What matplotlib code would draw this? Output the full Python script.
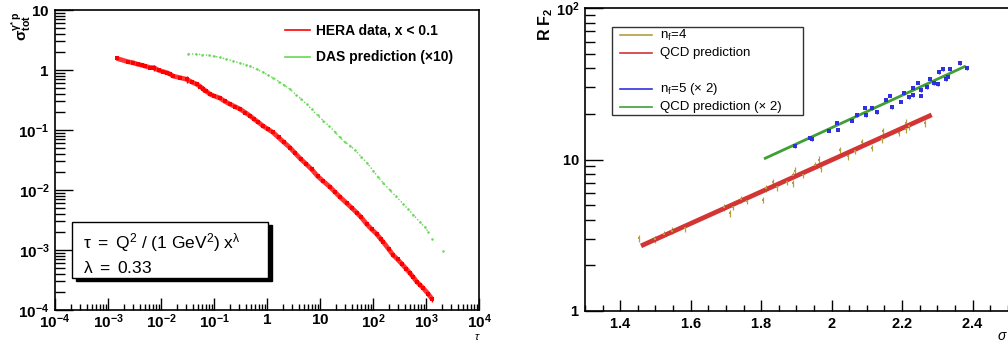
import numpy as np
import matplotlib
matplotlib.use('Agg')
import matplotlib.pyplot as plt
from matplotlib.patches import Rectangle
from matplotlib.ticker import FixedLocator, FixedFormatter, LogLocator, MultipleLocator, NullFormatter

plt.rcParams['font.family'] = ['Liberation Sans', 'DejaVu Sans']
plt.rcParams['mathtext.fontset'] = 'custom'
plt.rcParams['mathtext.rm'] = 'Liberation Sans'
plt.rcParams['mathtext.it'] = 'Liberation Sans:italic'
plt.rcParams['mathtext.bf'] = 'Liberation Sans:bold'

# ---- left panel: geometric scaling, sigma_tot vs tau ----
hera_tau = [1.46e-3, 2.4e-3, 2.9e-3, 3.7e-3, 4.4e-3, 5.0e-3, 6.2e-3, 7.4e-3, 9.0e-3,
            0.011, 0.013, 0.015, 0.017, 0.0228, 0.0305, 0.038, 0.047, 0.055, 0.063,
            0.072, 0.084, 0.10, 0.13, 0.16, 0.20, 0.25, 0.31, 0.39, 0.48, 0.58, 0.69,
            0.85, 1.05, 1.3, 1.65, 2.1, 2.7, 3.4, 4.3, 5.5, 7.0, 9.0, 11.5, 15.5, 19,
            24, 32, 40, 49, 60, 76, 95, 117, 140, 157, 200, 241, 290, 347, 420, 500,
            580, 667, 780, 890, 1107, 1320]
hera_sig = [1.56, 1.37, 1.33, 1.24, 1.20, 1.16, 1.10, 1.09, 0.99,
            0.94, 0.90, 0.85, 0.79, 0.745, 0.70, 0.63, 0.58, 0.53, 0.48,
            0.44, 0.395, 0.37, 0.34, 0.30, 0.27, 0.245, 0.223, 0.195, 0.172, 0.150, 0.134,
            0.116, 0.103, 0.091, 0.075, 0.062, 0.051, 0.041, 0.033, 0.027, 0.022, 0.0170, 0.0140, 0.0112, 0.0093,
            0.0076, 0.0060, 0.0050, 0.0042, 0.0035, 0.0027, 0.0022, 0.00185, 0.00152, 0.00135, 0.00102, 0.00082,
            0.00070, 0.00059, 0.00049, 0.00041, 0.00035, 0.000296, 0.00026, 0.00023, 0.000185, 0.00015]
hera_err = [0.04, 0.03, 0.03, 0.03, 0.03, 0.03, 0.03, 0.12, 0.03,
            0.03, 0.03, 0.03, 0.03, 0.03, 0.12, 0.03, 0.03, 0.03, 0.12,
            0.03, 0.03, 0.03, 0.03, 0.03, 0.03, 0.03, 0.05, 0.03, 0.03, 0.03, 0.03,
            0.03, 0.03, 0.03, 0.03, 0.03, 0.03, 0.03, 0.03, 0.03, 0.03, 0.03, 0.03, 0.03, 0.03,
            0.03, 0.03, 0.03, 0.03, 0.03, 0.03, 0.03, 0.08, 0.03, 0.03, 0.03, 0.05,
            0.03, 0.03, 0.03, 0.10, 0.03, 0.03, 0.03, 0.03, 0.08, 0.08]

das_tau = [0.033, 0.045, 0.06, 0.08, 0.10, 0.13, 0.17, 0.23, 0.31, 0.40, 0.48, 0.64,
           0.85, 1.05, 1.3, 1.7, 2.1, 2.7, 3.5, 4.4, 5.6, 7.0, 9.0, 11.6, 15, 19,
           23.8, 30, 37, 46, 60, 78, 101, 125, 157, 209, 270, 370, 460, 570, 770,
           950, 1107, 1280, 2120]
das_sig = [1.86, 1.84, 1.80, 1.75, 1.70, 1.62, 1.52, 1.41, 1.31, 1.22, 1.16, 1.03,
           0.91, 0.82, 0.745, 0.64, 0.56, 0.48, 0.39, 0.33, 0.27, 0.22, 0.175, 0.143, 0.115, 0.094,
           0.075, 0.062, 0.055, 0.046, 0.036, 0.028, 0.021, 0.0165, 0.0130, 0.0099, 0.0078, 0.0059, 0.0048, 0.0039, 0.0029,
           0.0024, 0.0020, 0.00155, 0.00096]

left_xticks = [1e-4, 1e-3, 1e-2, 1e-1, 1, 10, 1e2, 1e3, 1e4]
left_xlabels = [r'$\mathbf{10^{-4}}$', r'$\mathbf{10^{-3}}$', r'$\mathbf{10^{-2}}$', r'$\mathbf{10^{-1}}$',
                r'$\mathbf{1}$', r'$\mathbf{10}$', r'$\mathbf{10^{2}}$', r'$\mathbf{10^{3}}$', r'$\mathbf{10^{4}}$']
left_yticks = [1e-4, 1e-3, 1e-2, 1e-1, 1, 10]
left_ylabels = [r'$\mathbf{10^{-4}}$', r'$\mathbf{10^{-3}}$', r'$\mathbf{10^{-2}}$', r'$\mathbf{10^{-1}}$',
                r'$\mathbf{1}$', r'$\mathbf{10}$']

# ---- right panel: R F2 vs sigma ----
nf4_x = [1.454, 1.499, 1.524, 1.548, 1.584, 1.694, 1.711, 1.719, 1.744, 1.760, 1.806,
         1.815, 1.834, 1.846, 1.874, 1.889, 1.891, 1.896, 1.919, 1.953, 1.964, 1.969,
         2.025, 2.047, 2.066, 2.087, 2.116, 2.142, 2.146, 2.192, 2.211, 2.211, 2.220, 2.265]
nf4_y = [3.02, 2.97, 3.22, 3.39, 3.52, 4.83, 4.42, 4.88, 5.46, 5.35, 5.40,
         6.46, 7.13, 6.55, 7.13, 7.90, 6.96, 8.44, 7.90, 9.2, 10.0, 8.75,
         11.6, 10.5, 11.4, 13.1, 11.9, 13.6, 15.4, 15.0, 17.5, 15.8, 16.6, 17.3]
nf5_x = [1.896, 1.938, 1.943, 1.993, 2.016, 2.019, 2.057, 2.071, 2.096, 2.099, 2.116,
         2.130, 2.153, 2.165, 2.170, 2.198, 2.205, 2.220, 2.231, 2.230, 2.244, 2.255,
         2.255, 2.272, 2.279, 2.291, 2.302, 2.305, 2.316, 2.324, 2.331, 2.337, 2.364, 2.383]
nf5_y = [12.3, 13.8, 13.6, 15.5, 17.5, 15.7, 18.0, 19.7, 22.0, 19.6, 21.8,
         20.5, 24.7, 26.4, 22.1, 24.1, 27.4, 25.7, 26.7, 29.5, 32.1, 28.8,
         26.4, 30.0, 33.8, 31.8, 31.5, 37.6, 39.4, 33.8, 35.2, 39.4, 43.2, 40.0]
qcd4_x = [1.459, 2.284]
qcd4_y = [2.69, 19.7]
qcd5_x = [1.808, 2.381]
qcd5_y = [10.1, 41.4]

right_xticks = [1.4, 1.6, 1.8, 2.0, 2.2, 2.4]
right_xlabels = [r'$\mathbf{1.4}$', r'$\mathbf{1.6}$', r'$\mathbf{1.8}$', r'$\mathbf{2}$',
                 r'$\mathbf{2.2}$', r'$\mathbf{2.4}$']
right_yticks = [1, 10, 100]
right_ylabels = [r'$\mathbf{1}$', r'$\mathbf{10}$', r'$\mathbf{10^{2}}$']

RED = '#ff0000'
LGREEN = '#66d855'
OLIVE = '#b0a040'
BLUE = '#3030e0'
QRED = '#d33535'
QGREEN = '#3f9f35'

fig = plt.figure(figsize=(10.08, 3.41), dpi=100)
W, H = 1008.0, 341.0

# left axes: spine px 55..479, 10..310
ax1 = fig.add_axes([55 / W, 1 - 310 / H, 424 / W, 300 / H])
ax1.set_xscale('log')
ax1.set_yscale('log')
ax1.set_xlim(1e-4, 1e4)
ax1.set_ylim(1e-4, 10)

ax1.plot(das_tau[:-2], das_sig[:-2], ls=(0, (1, 1.5)), lw=1.0, color=LGREEN)
ax1.plot(das_tau, das_sig, ls='none', marker='.', ms=1.6, color=LGREEN)

hera_tau_a = np.array(hera_tau)
hera_sig_a = np.array(hera_sig)
hera_yerr = hera_sig_a * np.array(hera_err)
ax1.plot(hera_tau_a, hera_sig_a, color=RED, lw=3.4, alpha=0.8, solid_capstyle='butt')
ax1.errorbar(hera_tau_a, hera_sig_a, yerr=hera_yerr, fmt='s', ms=2.6, color=RED,
             ecolor=RED, elinewidth=1.0, capsize=1.6, capthick=1.0, mew=0)

ax1.xaxis.set_major_locator(FixedLocator(left_xticks))
ax1.xaxis.set_major_formatter(FixedFormatter(left_xlabels))
ax1.xaxis.set_minor_locator(LogLocator(base=10, subs=np.arange(2, 10), numticks=20))
ax1.xaxis.set_minor_formatter(NullFormatter())
ax1.yaxis.set_major_locator(FixedLocator(left_yticks))
ax1.yaxis.set_major_formatter(FixedFormatter(left_ylabels))
ax1.yaxis.set_minor_locator(LogLocator(base=10, subs=np.arange(2, 10), numticks=20))
ax1.yaxis.set_minor_formatter(NullFormatter())
ax1.tick_params(axis='x', which='major', direction='in', length=9, width=1, labelsize=11, pad=2)
ax1.tick_params(axis='x', which='minor', direction='in', length=4.5, width=1)
ax1.tick_params(axis='y', which='major', direction='in', length=13, width=1, labelsize=11, pad=4)
ax1.tick_params(axis='y', which='minor', direction='in', length=7, width=1)
for s in ax1.spines.values():
    s.set_linewidth(1.2)

# legend (no border)
ax1.plot([0.542, 0.601], [0.933, 0.933], transform=ax1.transAxes, color=RED, lw=1.2)
ax1.text(0.616, 0.933, 'HERA data, x < 0.1', transform=ax1.transAxes, fontsize=10,
         fontweight='bold', va='center', ha='left')
ax1.plot([0.542, 0.601], [0.843, 0.843], transform=ax1.transAxes, color=LGREEN, lw=1.2)
ax1.text(0.616, 0.843, 'DAS prediction (\u00d710)', transform=ax1.transAxes, fontsize=10,
         fontweight='bold', va='center', ha='left')

# pave text with shadow
ax1.add_patch(Rectangle((0.049, 0.097), 0.462, 0.186, transform=ax1.transAxes,
                        facecolor='black', edgecolor='black', zorder=5))
ax1.add_patch(Rectangle((0.040, 0.107), 0.462, 0.186, transform=ax1.transAxes,
                        facecolor='white', edgecolor='black', lw=1.0, zorder=6))
ax1.text(0.066, 0.226, r'$\mathrm{\tau\ =\ Q^{2}\ /\ (1\ GeV^{2})\ x^{\lambda}}$',
         transform=ax1.transAxes, fontsize=12.5, va='center', ha='left', zorder=7)
ax1.text(0.066, 0.140, r'$\mathrm{\lambda\ =\ 0.33}$',
         transform=ax1.transAxes, fontsize=12.5, va='center', ha='left', zorder=7)

fig.text(477 / W, 1 - 337 / H, r'$\tau$', fontsize=8, ha='center', va='center')
fig.text(22 / W, 1 - 26 / H, r'$\mathbf{\sigma^{\gamma^{*}\,p}_{tot}}$', fontsize=11,
         rotation=90, ha='center', va='center')

# right axes: spine px 585..1043 (cut by figure edge), 8..311
ax2 = fig.add_axes([585 / W, 1 - 311 / H, 458 / W, 303 / H])
ax2.set_yscale('log')
ax2.set_xlim(1.3, 2.6)
ax2.set_ylim(1, 100)

ax2.errorbar(nf4_x, nf4_y, yerr=np.array(nf4_y) * 0.05, fmt='s', ms=2.0, color=OLIVE,
             ecolor=OLIVE, elinewidth=0.9, capsize=1.8, capthick=0.9, mew=0)
ax2.plot(qcd4_x, qcd4_y, color=QRED, lw=3.4, solid_capstyle='butt')
ax2.errorbar(nf5_x, nf5_y, yerr=np.array(nf5_y) * 0.025, fmt='s', ms=2.2, color=BLUE,
             ecolor=BLUE, elinewidth=0.9, capsize=1.4, capthick=0.9, mew=0)
ax2.plot(qcd5_x, qcd5_y, color=QGREEN, lw=2.0, solid_capstyle='butt')

ax2.xaxis.set_major_locator(FixedLocator(right_xticks))
ax2.xaxis.set_major_formatter(FixedFormatter(right_xlabels))
ax2.xaxis.set_minor_locator(MultipleLocator(0.05))
ax2.yaxis.set_major_locator(FixedLocator(right_yticks))
ax2.yaxis.set_major_formatter(FixedFormatter(right_ylabels))
ax2.yaxis.set_minor_locator(LogLocator(base=10, subs=np.arange(2, 10), numticks=20))
ax2.yaxis.set_minor_formatter(NullFormatter())
ax2.tick_params(axis='x', which='major', direction='in', length=8, width=1, labelsize=10.5, pad=4)
ax2.tick_params(axis='x', which='minor', direction='in', length=4, width=1)
ax2.tick_params(axis='y', which='major', direction='in', length=13, width=1, labelsize=10.5, pad=4)
ax2.tick_params(axis='y', which='minor', direction='in', length=7, width=1)
for s in ax2.spines.values():
    s.set_linewidth(1.2)

# legend with border
ax2.add_patch(Rectangle((0.059, 0.647), 0.417, 0.290, transform=ax2.transAxes,
                        facecolor='white', edgecolor='#333333', lw=1.0, zorder=5))
leg_rows = [(0.911, OLIVE, r'n$_\mathrm{f}$=4'),
            (0.851, QRED, 'QCD prediction'),
            (0.733, BLUE, 'n$_\\mathrm{f}$=5 (\u00d7 2)'),
            (0.673, QGREEN, 'QCD prediction (\u00d7 2)')]
for yy, cc, lab in leg_rows:
    ax2.plot([0.076, 0.146], [yy, yy], transform=ax2.transAxes, color=cc, lw=1.2, zorder=6)
    ax2.text(0.164, yy, lab, transform=ax2.transAxes, fontsize=9.5, va='center',
             ha='left', zorder=6)

fig.text(546 / W, 1 - 24 / H, r'$\mathbf{R\ F_{2}}$', fontsize=11.5, rotation=90,
         ha='center', va='center')
fig.text(1002 / W, 1 - 336 / H, r'$\sigma$', fontsize=10, ha='center', va='center')

fig.savefig('out.png', dpi=100, facecolor='white')
